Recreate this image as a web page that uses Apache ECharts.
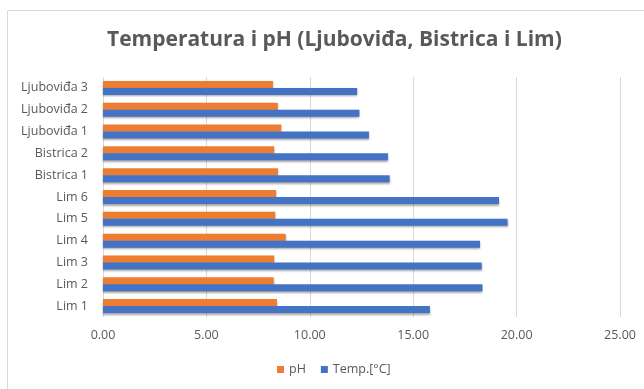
<!DOCTYPE html>
<html>
<head>
<meta charset="utf-8">
<script src="https://cdn.jsdelivr.net/npm/echarts@6/dist/echarts.min.js"></script>
<style>
  html, body { margin: 0; padding: 0; background: #ffffff; }
  #chart { width: 644px; height: 389px; }
</style>
</head>
<body>
<div id="chart"></div>
<script>
// Sampling sites, bottom to top on the category axis
const sites = ['Lim 1', 'Lim 2', 'Lim 3', 'Lim 4', 'Lim 5', 'Lim 6',
               'Bistrica 1', 'Bistrica 2', 'Ljuboviđa 1', 'Ljuboviđa 2', 'Ljuboviđa 3'];
// Measured values per site
const phValues   = [8.41, 8.25, 8.28, 8.83, 8.33, 8.37, 8.46, 8.28, 8.62, 8.45, 8.22];
const tempValues = [15.81, 18.35, 18.31, 18.23, 19.56, 19.15, 13.86, 13.78, 12.86, 12.40, 12.29];
// Value axis ticks
const xTicks = [0, 5, 10, 15, 20, 25];

const textColor = '#595959';
const font = 'Open Sans';

const chart = echarts.init(document.getElementById('chart'));
const barShadow = { shadowColor: 'rgba(0,0,0,0.35)', shadowBlur: 2, shadowOffsetY: 1.5 };

chart.setOption({
  backgroundColor: '#ffffff',
  animation: false,
  graphic: [{
    type: 'rect',
    shape: { x: 7.5, y: 10.5, width: 700, height: 500 },
    style: { fill: 'none', stroke: '#d9d9d9', lineWidth: 1 },
    silent: true
  }],
  title: {
    text: 'Temperatura i pH (Ljuboviđa, Bistrica i Lim)',
    left: 102,
    top: 25,
    textStyle: { fontFamily: font, fontSize: 21, fontWeight: 'bold', color: textColor }
  },
  legend: {
    data: ['pH', 'Temp.[°C]'],
    bottom: 8,
    left: 272,
    itemWidth: 7,
    itemHeight: 7,
    itemGap: 15,
    icon: 'rect',
    textStyle: { fontFamily: font, fontSize: 12.5, color: textColor }
  },
  grid: { left: 103, right: 24, top: 77, bottom: 72, containLabel: false },
  xAxis: {
    type: 'value',
    min: xTicks[0],
    max: xTicks[xTicks.length - 1],
    interval: 5,
    axisLine: { show: false },
    axisTick: { show: false },
    splitLine: { lineStyle: { color: '#d9d9d9', width: 1 } },
    axisLabel: {
      fontFamily: font, fontSize: 12.5, color: textColor, margin: 12,
      formatter: v => v.toFixed(2)
    }
  },
  yAxis: {
    type: 'category',
    data: sites,
    axisLine: { show: false },
    axisTick: { show: false },
    axisLabel: { fontFamily: font, fontSize: 12.5, color: textColor, margin: 15 }
  },
  series: [
    {
      name: 'pH',
      type: 'bar',
      data: phValues,
      barWidth: 7,
      barGap: '0%',
      itemStyle: Object.assign({ color: '#ed7d31' }, barShadow)
    },
    {
      name: 'Temp.[°C]',
      type: 'bar',
      data: tempValues,
      barWidth: 7,
      barGap: '0%',
      itemStyle: Object.assign({ color: '#4472c4' }, barShadow)
    }
  ]
});
</script>
</body>
</html>
